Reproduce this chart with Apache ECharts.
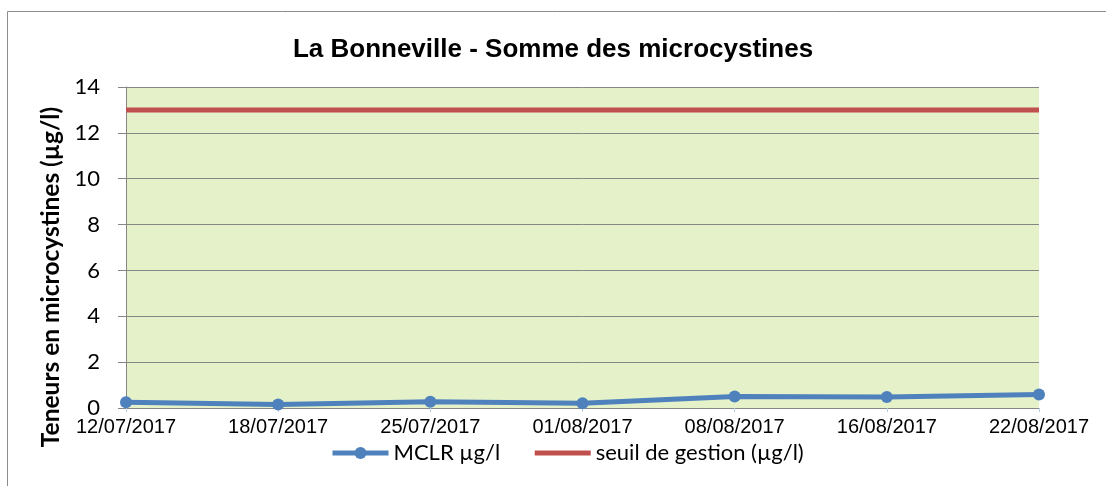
<!DOCTYPE html>
<html>
<head>
<meta charset="utf-8">
<script src="https://cdn.jsdelivr.net/npm/echarts@6/dist/echarts.min.js"></script>
<style>
  html, body { margin: 0; padding: 0; background: #fff; }
  #chart { width: 1106px; height: 486px; }
</style>
</head>
<body>
<div id="chart"></div>
<script>
const dates = ['12/07/2017', '18/07/2017', '25/07/2017', '01/08/2017', '08/08/2017', '16/08/2017', '22/08/2017']
const mclr = [0.25, 0.15, 0.27, 0.21, 0.5, 0.48, 0.59]
const seuil = [13, 13, 13, 13, 13, 13, 13]
const yTicks = [0, 14, 2]

const chart = echarts.init(document.getElementById('chart'))

chart.setOption({
  animation: false,
  backgroundColor: '#fff',
  title: {
    text: 'La Bonneville - Somme des microcystines',
    left: 'center',
    top: 32,
    textStyle: {
      fontFamily: 'Liberation Sans',
      fontWeight: 'bold',
      fontSize: 26,
      color: '#000'
    }
  },
  graphic: [
    {
      type: 'rect',
      shape: { x: 7.5, y: 11.5, width: 1200, height: 600 },
      style: { fill: 'none', stroke: '#8c8c8c', lineWidth: 1 },
      silent: true
    },
    {
      type: 'text',
      x: 51,
      y: 277,
      rotation: Math.PI / 2,
      style: {
        text: 'Teneurs en microcystines (µg/l)',
        fontFamily: 'Lato',
        fontWeight: 'bold',
        fontSize: 24.5,
        fill: '#000',
        align: 'center',
        verticalAlign: 'middle'
      }
    }
  ],
  legend: {
    data: [
      { name: 'MCLR µg/l' },
      { name: 'seuil de gestion (µg/l)', itemStyle: { opacity: 0 } }
    ],
    left: 325,
    top: 437,
    itemWidth: 56,
    itemHeight: 15,
    itemGap: 32,
    lineStyle: { width: 5 },
    textStyle: {
      fontFamily: 'Lato',
      fontSize: 22,
      color: '#000'
    }
  },
  grid: {
    left: 126,
    right: 67,
    top: 87,
    bottom: 78,
    show: true,
    backgroundColor: '#e4f1c9',
    borderWidth: 0
  },
  xAxis: {
    type: 'category',
    data: dates,
    boundaryGap: false,
    axisLine: { show: true, lineStyle: { color: '#868686', width: 1 } },
    axisTick: { show: true, alignWithLabel: true, length: 4, lineStyle: { color: '#b9cde5' } },
    axisLabel: {
      margin: 9,
      fontFamily: 'Liberation Sans',
      fontSize: 20,
      color: '#000'
    },
    splitLine: { show: false }
  },
  yAxis: {
    type: 'value',
    min: yTicks[0],
    max: yTicks[1],
    interval: yTicks[2],
    axisLine: { show: true, lineStyle: { color: '#868686', width: 1 } },
    axisTick: { show: true, inside: false, length: 8, lineStyle: { color: '#868686' } },
    axisLabel: {
      margin: 26,
      fontFamily: 'Lato',
      fontSize: 22,
      color: '#000'
    },
    splitLine: { show: true, lineStyle: { color: '#868686', width: 1 } }
  },
  series: [
    {
      name: 'MCLR µg/l',
      type: 'line',
      data: mclr,
      symbol: 'circle',
      symbolSize: 12,
      color: '#4f81bd',
      lineStyle: { width: 5, color: '#4f81bd' },
      itemStyle: { color: '#4f81bd' },
      z: 3
    },
    {
      name: 'seuil de gestion (µg/l)',
      type: 'line',
      data: seuil,
      symbol: 'none',
      color: '#c0504d',
      lineStyle: { width: 5, color: '#c0504d' },
      z: 2
    }
  ]
})
</script>
</body>
</html>
